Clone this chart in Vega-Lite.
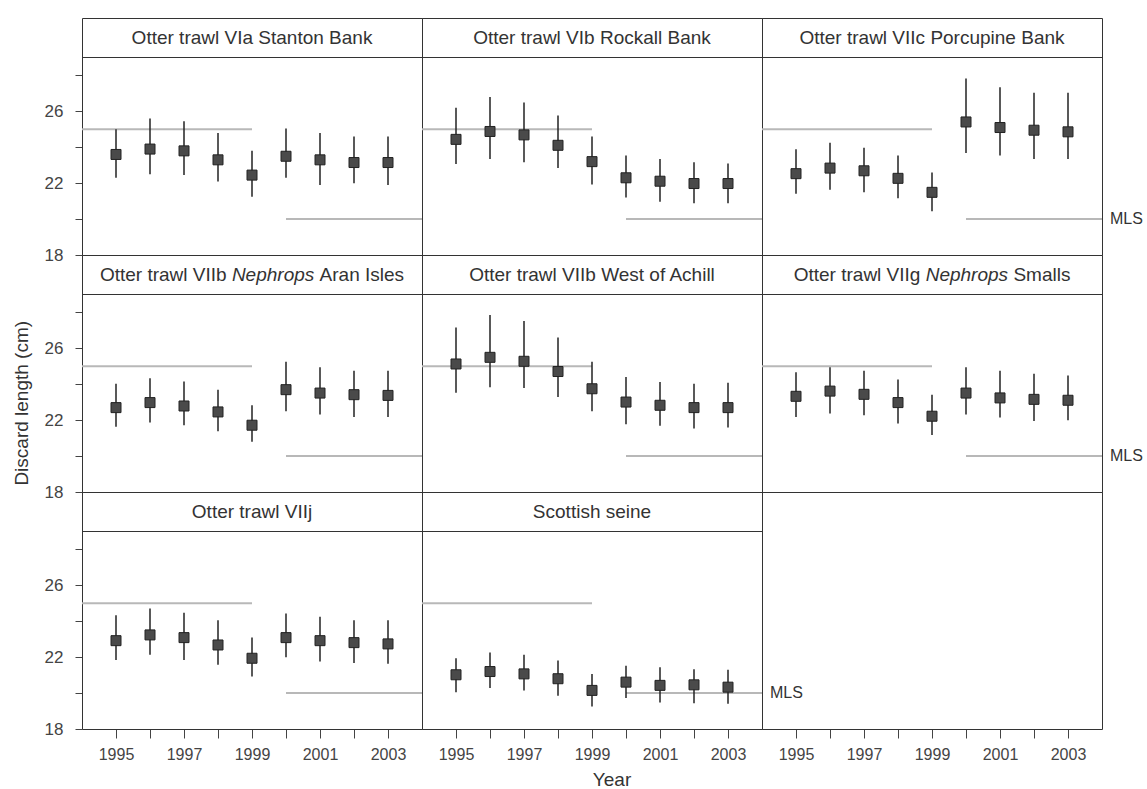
{
  "$schema": "https://vega.github.io/schema/vega-lite/v6.json",
  "background": "white",
  "padding": {"left": 13, "top": 16, "right": 5, "bottom": 5},
  "bounds": "flush",
  "title": {"text": "Discard length (cm)", "orient": "left", "anchor": "middle", "fontSize": 19, "fontWeight": "normal", "font": "Liberation Sans", "color": "#333", "offset": 12},
  "data": {"values": [
    {"panel": "Otter trawl VIa Stanton Bank", "kind": "obs", "year": 1995, "mean": 23.6, "lo": 22.3, "hi": 25.0},
    {"panel": "Otter trawl VIa Stanton Bank", "kind": "obs", "year": 1996, "mean": 23.9, "lo": 22.5, "hi": 25.6},
    {"panel": "Otter trawl VIa Stanton Bank", "kind": "obs", "year": 1997, "mean": 23.8, "lo": 22.45, "hi": 25.45},
    {"panel": "Otter trawl VIa Stanton Bank", "kind": "obs", "year": 1998, "mean": 23.3, "lo": 22.1, "hi": 24.8},
    {"panel": "Otter trawl VIa Stanton Bank", "kind": "obs", "year": 1999, "mean": 22.45, "lo": 21.25, "hi": 23.8},
    {"panel": "Otter trawl VIa Stanton Bank", "kind": "obs", "year": 2000, "mean": 23.5, "lo": 22.3, "hi": 25.05},
    {"panel": "Otter trawl VIa Stanton Bank", "kind": "obs", "year": 2001, "mean": 23.3, "lo": 21.9, "hi": 24.8},
    {"panel": "Otter trawl VIa Stanton Bank", "kind": "obs", "year": 2002, "mean": 23.15, "lo": 22.0, "hi": 24.6},
    {"panel": "Otter trawl VIa Stanton Bank", "kind": "obs", "year": 2003, "mean": 23.15, "lo": 21.9, "hi": 24.6},
    {"panel": "Otter trawl VIa Stanton Bank", "kind": "ref", "start": 1994, "end": 1999, "value": 25},
    {"panel": "Otter trawl VIa Stanton Bank", "kind": "ref", "start": 2000, "end": 2004, "value": 20},

    {"panel": "Otter trawl VIb Rockall Bank", "kind": "obs", "year": 1995, "mean": 24.44, "lo": 23.07, "hi": 26.2},
    {"panel": "Otter trawl VIb Rockall Bank", "kind": "obs", "year": 1996, "mean": 24.88, "lo": 23.35, "hi": 26.8},
    {"panel": "Otter trawl VIb Rockall Bank", "kind": "obs", "year": 1997, "mean": 24.69, "lo": 23.16, "hi": 26.5},
    {"panel": "Otter trawl VIb Rockall Bank", "kind": "obs", "year": 1998, "mean": 24.11, "lo": 22.84, "hi": 25.77},
    {"panel": "Otter trawl VIb Rockall Bank", "kind": "obs", "year": 1999, "mean": 23.2, "lo": 21.92, "hi": 24.6},
    {"panel": "Otter trawl VIb Rockall Bank", "kind": "obs", "year": 2000, "mean": 22.3, "lo": 21.2, "hi": 23.54},
    {"panel": "Otter trawl VIb Rockall Bank", "kind": "obs", "year": 2001, "mean": 22.11, "lo": 20.97, "hi": 23.35},
    {"panel": "Otter trawl VIb Rockall Bank", "kind": "obs", "year": 2002, "mean": 21.98, "lo": 20.88, "hi": 23.16},
    {"panel": "Otter trawl VIb Rockall Bank", "kind": "obs", "year": 2003, "mean": 21.98, "lo": 20.88, "hi": 23.1},
    {"panel": "Otter trawl VIb Rockall Bank", "kind": "ref", "start": 1994, "end": 1999, "value": 25},
    {"panel": "Otter trawl VIb Rockall Bank", "kind": "ref", "start": 2000, "end": 2004, "value": 20},

    {"panel": "Otter trawl VIIc Porcupine Bank", "kind": "obs", "year": 1995, "mean": 22.53, "lo": 21.41, "hi": 23.89},
    {"panel": "Otter trawl VIIc Porcupine Bank", "kind": "obs", "year": 1996, "mean": 22.84, "lo": 21.64, "hi": 24.25},
    {"panel": "Otter trawl VIIc Porcupine Bank", "kind": "obs", "year": 1997, "mean": 22.69, "lo": 21.5, "hi": 23.98},
    {"panel": "Otter trawl VIIc Porcupine Bank", "kind": "obs", "year": 1998, "mean": 22.27, "lo": 21.16, "hi": 23.54},
    {"panel": "Otter trawl VIIc Porcupine Bank", "kind": "obs", "year": 1999, "mean": 21.49, "lo": 20.44, "hi": 22.6},
    {"panel": "Otter trawl VIIc Porcupine Bank", "kind": "obs", "year": 2000, "mean": 25.41, "lo": 23.68, "hi": 27.83},
    {"panel": "Otter trawl VIIc Porcupine Bank", "kind": "obs", "year": 2001, "mean": 25.1, "lo": 23.54, "hi": 27.35},
    {"panel": "Otter trawl VIIc Porcupine Bank", "kind": "obs", "year": 2002, "mean": 24.95, "lo": 23.35, "hi": 27.03},
    {"panel": "Otter trawl VIIc Porcupine Bank", "kind": "obs", "year": 2003, "mean": 24.86, "lo": 23.35, "hi": 27.03},
    {"panel": "Otter trawl VIIc Porcupine Bank", "kind": "ref", "start": 1994, "end": 1999, "value": 25},
    {"panel": "Otter trawl VIIc Porcupine Bank", "kind": "ref", "start": 2000, "end": 2004, "value": 20},

    {"panel": "Otter trawl VIIb Nephrops Aran Isles", "kind": "obs", "year": 1995, "mean": 22.7, "lo": 21.63, "hi": 24.03},
    {"panel": "Otter trawl VIIb Nephrops Aran Isles", "kind": "obs", "year": 1996, "mean": 22.98, "lo": 21.87, "hi": 24.34},
    {"panel": "Otter trawl VIIb Nephrops Aran Isles", "kind": "obs", "year": 1997, "mean": 22.79, "lo": 21.72, "hi": 24.16},
    {"panel": "Otter trawl VIIb Nephrops Aran Isles", "kind": "obs", "year": 1998, "mean": 22.46, "lo": 21.39, "hi": 23.7},
    {"panel": "Otter trawl VIIb Nephrops Aran Isles", "kind": "obs", "year": 1999, "mean": 21.72, "lo": 20.8, "hi": 22.83},
    {"panel": "Otter trawl VIIb Nephrops Aran Isles", "kind": "obs", "year": 2000, "mean": 23.7, "lo": 22.5, "hi": 25.26},
    {"panel": "Otter trawl VIIb Nephrops Aran Isles", "kind": "obs", "year": 2001, "mean": 23.51, "lo": 22.31, "hi": 24.95},
    {"panel": "Otter trawl VIIb Nephrops Aran Isles", "kind": "obs", "year": 2002, "mean": 23.42, "lo": 22.18, "hi": 24.76},
    {"panel": "Otter trawl VIIb Nephrops Aran Isles", "kind": "obs", "year": 2003, "mean": 23.38, "lo": 22.18, "hi": 24.76},
    {"panel": "Otter trawl VIIb Nephrops Aran Isles", "kind": "ref", "start": 1994, "end": 1999, "value": 25},
    {"panel": "Otter trawl VIIb Nephrops Aran Isles", "kind": "ref", "start": 2000, "end": 2004, "value": 20},

    {"panel": "Otter trawl VIIb West of Achill", "kind": "obs", "year": 1995, "mean": 25.13, "lo": 23.53, "hi": 27.16},
    {"panel": "Otter trawl VIIb West of Achill", "kind": "obs", "year": 1996, "mean": 25.5, "lo": 23.84, "hi": 27.86},
    {"panel": "Otter trawl VIIb West of Achill", "kind": "obs", "year": 1997, "mean": 25.28, "lo": 23.79, "hi": 27.53},
    {"panel": "Otter trawl VIIb West of Achill", "kind": "obs", "year": 1998, "mean": 24.71, "lo": 23.29, "hi": 26.61},
    {"panel": "Otter trawl VIIb West of Achill", "kind": "obs", "year": 1999, "mean": 23.75, "lo": 22.5, "hi": 25.26},
    {"panel": "Otter trawl VIIb West of Achill", "kind": "obs", "year": 2000, "mean": 23.01, "lo": 21.78, "hi": 24.4},
    {"panel": "Otter trawl VIIb West of Achill", "kind": "obs", "year": 2001, "mean": 22.83, "lo": 21.69, "hi": 24.12},
    {"panel": "Otter trawl VIIb West of Achill", "kind": "obs", "year": 2002, "mean": 22.7, "lo": 21.54, "hi": 24.03},
    {"panel": "Otter trawl VIIb West of Achill", "kind": "obs", "year": 2003, "mean": 22.7, "lo": 21.59, "hi": 24.08},
    {"panel": "Otter trawl VIIb West of Achill", "kind": "ref", "start": 1994, "end": 1999, "value": 25},
    {"panel": "Otter trawl VIIb West of Achill", "kind": "ref", "start": 2000, "end": 2004, "value": 20},

    {"panel": "Otter trawl VIIg Nephrops Smalls", "kind": "obs", "year": 1995, "mean": 23.33, "lo": 22.18, "hi": 24.67},
    {"panel": "Otter trawl VIIg Nephrops Smalls", "kind": "obs", "year": 1996, "mean": 23.62, "lo": 22.37, "hi": 24.95},
    {"panel": "Otter trawl VIIg Nephrops Smalls", "kind": "obs", "year": 1997, "mean": 23.44, "lo": 22.28, "hi": 24.76},
    {"panel": "Otter trawl VIIg Nephrops Smalls", "kind": "obs", "year": 1998, "mean": 22.98, "lo": 21.82, "hi": 24.27},
    {"panel": "Otter trawl VIIg Nephrops Smalls", "kind": "obs", "year": 1999, "mean": 22.22, "lo": 21.17, "hi": 23.42},
    {"panel": "Otter trawl VIIg Nephrops Smalls", "kind": "obs", "year": 2000, "mean": 23.51, "lo": 22.31, "hi": 24.95},
    {"panel": "Otter trawl VIIg Nephrops Smalls", "kind": "obs", "year": 2001, "mean": 23.24, "lo": 22.15, "hi": 24.76},
    {"panel": "Otter trawl VIIg Nephrops Smalls", "kind": "obs", "year": 2002, "mean": 23.16, "lo": 21.96, "hi": 24.58},
    {"panel": "Otter trawl VIIg Nephrops Smalls", "kind": "obs", "year": 2003, "mean": 23.11, "lo": 22.0, "hi": 24.49},
    {"panel": "Otter trawl VIIg Nephrops Smalls", "kind": "ref", "start": 1994, "end": 1999, "value": 25},
    {"panel": "Otter trawl VIIg Nephrops Smalls", "kind": "ref", "start": 2000, "end": 2004, "value": 20},

    {"panel": "Otter trawl VIIj", "kind": "obs", "year": 1995, "mean": 22.92, "lo": 21.85, "hi": 24.34},
    {"panel": "Otter trawl VIIj", "kind": "obs", "year": 1996, "mean": 23.24, "lo": 22.13, "hi": 24.71},
    {"panel": "Otter trawl VIIj", "kind": "obs", "year": 1997, "mean": 23.09, "lo": 21.85, "hi": 24.47},
    {"panel": "Otter trawl VIIj", "kind": "obs", "year": 1998, "mean": 22.68, "lo": 21.58, "hi": 24.06},
    {"panel": "Otter trawl VIIj", "kind": "obs", "year": 1999, "mean": 21.94, "lo": 20.93, "hi": 23.09},
    {"panel": "Otter trawl VIIj", "kind": "obs", "year": 2000, "mean": 23.09, "lo": 22.0, "hi": 24.43},
    {"panel": "Otter trawl VIIj", "kind": "obs", "year": 2001, "mean": 22.92, "lo": 21.76, "hi": 24.25},
    {"panel": "Otter trawl VIIj", "kind": "obs", "year": 2002, "mean": 22.81, "lo": 21.67, "hi": 24.06},
    {"panel": "Otter trawl VIIj", "kind": "obs", "year": 2003, "mean": 22.74, "lo": 21.63, "hi": 24.06},
    {"panel": "Otter trawl VIIj", "kind": "ref", "start": 1994, "end": 1999, "value": 25},
    {"panel": "Otter trawl VIIj", "kind": "ref", "start": 2000, "end": 2004, "value": 20},

    {"panel": "Scottish seine", "kind": "obs", "year": 1995, "mean": 21.02, "lo": 20.04, "hi": 21.94},
    {"panel": "Scottish seine", "kind": "obs", "year": 1996, "mean": 21.2, "lo": 20.28, "hi": 22.26},
    {"panel": "Scottish seine", "kind": "obs", "year": 1997, "mean": 21.07, "lo": 20.15, "hi": 22.13},
    {"panel": "Scottish seine", "kind": "obs", "year": 1998, "mean": 20.8, "lo": 19.85, "hi": 21.81},
    {"panel": "Scottish seine", "kind": "obs", "year": 1999, "mean": 20.15, "lo": 19.26, "hi": 21.07},
    {"panel": "Scottish seine", "kind": "obs", "year": 2000, "mean": 20.61, "lo": 19.72, "hi": 21.52},
    {"panel": "Scottish seine", "kind": "obs", "year": 2001, "mean": 20.43, "lo": 19.48, "hi": 21.44},
    {"panel": "Scottish seine", "kind": "obs", "year": 2002, "mean": 20.46, "lo": 19.44, "hi": 21.33},
    {"panel": "Scottish seine", "kind": "obs", "year": 2003, "mean": 20.33, "lo": 19.4, "hi": 21.3},
    {"panel": "Scottish seine", "kind": "ref", "start": 1994, "end": 1999, "value": 25},
    {"panel": "Scottish seine", "kind": "ref", "start": 2000, "end": 2004, "value": 20},

    {"panel": "blank", "kind": "blank"}
  ]},
  "facet": {
    "field": "panel", "type": "nominal",
    "sort": ["Otter trawl VIa Stanton Bank", "Otter trawl VIb Rockall Bank", "Otter trawl VIIc Porcupine Bank", "Otter trawl VIIb Nephrops Aran Isles", "Otter trawl VIIb West of Achill", "Otter trawl VIIg Nephrops Smalls", "Otter trawl VIIj", "Scottish seine", "blank"],
    "header": {"labels": false, "labelExpr": "''", "labelFontSize": 1, "labelPadding": 0, "title": "Year", "titleOrient": "bottom", "titleFontSize": 19, "titleFontWeight": "normal", "titleFont": "Liberation Sans", "titleColor": "#333", "titlePadding": 9}
  },
  "columns": 3,
  "spacing": 0,
  "spec": {
    "width": 340,
    "height": 237,
    "layer": [
      {
        "transform": [{"filter": "datum.kind == 'ref'"}],
        "mark": {"type": "rule", "color": "#b8b8b8", "strokeWidth": 2},
        "encoding": {
          "x": {"field": "start", "type": "quantitative",
                "scale": {"domain": [1994, 2004], "nice": false, "zero": false},
                "axis": {"title": null, "values": [1995, 1996, 1997, 1998, 1999, 2000, 2001, 2002, 2003], "format": "d",
                         "labelExpr": "datum.value % 2 == 1 ? datum.label : ''", "tickSize": 9, "labelPadding": 8,
                         "domain": false, "grid": false, "labelFontSize": 16, "labelColor": "#444", "tickColor": "#444", "labelFont": "Liberation Sans"}},
          "x2": {"field": "end"},
          "y": {"field": "value", "type": "quantitative",
                "scale": {"domain": [18, 31.2], "nice": false, "zero": false},
                "axis": {"title": null, "values": [18, 20, 22, 24, 26, 28],
                         "labelExpr": "datum.value % 4 == 2 ? datum.label : ''", "tickSize": 7, "labelPadding": 12,
                         "domain": false, "grid": false, "labelFontSize": 17, "labelColor": "#444", "tickColor": "#444", "labelFont": "Liberation Sans"}}
        }
      },
      {
        "transform": [{"filter": "datum.kind == 'obs'"}],
        "mark": {"type": "rule", "color": "#222", "strokeWidth": 1.5},
        "encoding": {
          "x": {"field": "year", "type": "quantitative"},
          "y": {"field": "lo", "type": "quantitative"},
          "y2": {"field": "hi"}
        }
      },
      {
        "transform": [{"filter": "datum.kind == 'obs'"}],
        "mark": {"type": "square", "size": 100, "color": "#4a4a4a", "opacity": 1, "stroke": "#222", "strokeWidth": 1},
        "encoding": {
          "x": {"field": "year", "type": "quantitative"},
          "y": {"field": "mean", "type": "quantitative"}
        }
      },
      {
        "transform": [{"filter": "datum.kind == 'ref' && datum.value == 20"}],
        "mark": {"type": "rule", "color": "#333", "strokeWidth": 1},
        "encoding": {
          "x": {"datum": 1994, "type": "quantitative"},
          "x2": {"datum": 2004},
          "y": {"datum": 29, "type": "quantitative"}
        }
      },
      {
        "transform": [{"filter": "datum.kind == 'ref' && datum.value == 20 && indexof(datum.panel, 'Nephrops') < 0"}],
        "mark": {"type": "text", "fontSize": 19, "font": "Liberation Sans", "color": "#333", "align": "center", "baseline": "middle"},
        "encoding": {
          "x": {"datum": 1999, "type": "quantitative"},
          "y": {"datum": 30.1, "type": "quantitative"},
          "text": {"field": "panel"}
        }
      },
      {
        "transform": [{"filter": "datum.kind == 'ref' && datum.value == 20 && datum.panel == 'Otter trawl VIIb Nephrops Aran Isles'"}],
        "mark": {"type": "text", "fontSize": 19, "font": "Liberation Sans", "color": "#333", "align": "right", "baseline": "middle", "dx": -25.4},
        "encoding": {
          "x": {"datum": 1999, "type": "quantitative"},
          "y": {"datum": 30.1, "type": "quantitative"},
          "text": {"value": "Otter trawl VIIb"}
        }
      },
      {
        "transform": [{"filter": "datum.kind == 'ref' && datum.value == 20 && datum.panel == 'Otter trawl VIIb Nephrops Aran Isles'"}],
        "mark": {"type": "text", "fontSize": 19, "font": "Liberation Sans", "fontStyle": "italic", "color": "#333", "align": "left", "baseline": "middle", "dx": -20.1},
        "encoding": {
          "x": {"datum": 1999, "type": "quantitative"},
          "y": {"datum": 30.1, "type": "quantitative"},
          "text": {"value": "Nephrops"}
        }
      },
      {
        "transform": [{"filter": "datum.kind == 'ref' && datum.value == 20 && datum.panel == 'Otter trawl VIIb Nephrops Aran Isles'"}],
        "mark": {"type": "text", "fontSize": 19, "font": "Liberation Sans", "color": "#333", "align": "left", "baseline": "middle", "dx": 67.6},
        "encoding": {
          "x": {"datum": 1999, "type": "quantitative"},
          "y": {"datum": 30.1, "type": "quantitative"},
          "text": {"value": "Aran Isles"}
        }
      },
      {
        "transform": [{"filter": "datum.kind == 'ref' && datum.value == 20 && datum.panel == 'Otter trawl VIIg Nephrops Smalls'"}],
        "mark": {"type": "text", "fontSize": 19, "font": "Liberation Sans", "color": "#333", "align": "right", "baseline": "middle", "dx": -11.6},
        "encoding": {
          "x": {"datum": 1999, "type": "quantitative"},
          "y": {"datum": 30.1, "type": "quantitative"},
          "text": {"value": "Otter trawl VIIg"}
        }
      },
      {
        "transform": [{"filter": "datum.kind == 'ref' && datum.value == 20 && datum.panel == 'Otter trawl VIIg Nephrops Smalls'"}],
        "mark": {"type": "text", "fontSize": 19, "font": "Liberation Sans", "fontStyle": "italic", "color": "#333", "align": "left", "baseline": "middle", "dx": -6.3},
        "encoding": {
          "x": {"datum": 1999, "type": "quantitative"},
          "y": {"datum": 30.1, "type": "quantitative"},
          "text": {"value": "Nephrops"}
        }
      },
      {
        "transform": [{"filter": "datum.kind == 'ref' && datum.value == 20 && datum.panel == 'Otter trawl VIIg Nephrops Smalls'"}],
        "mark": {"type": "text", "fontSize": 19, "font": "Liberation Sans", "color": "#333", "align": "left", "baseline": "middle", "dx": 81.4},
        "encoding": {
          "x": {"datum": 1999, "type": "quantitative"},
          "y": {"datum": 30.1, "type": "quantitative"},
          "text": {"value": "Smalls"}
        }
      },
      {
        "transform": [{"filter": "datum.kind == 'ref' && datum.value == 20 && (datum.panel == 'Otter trawl VIIc Porcupine Bank' || datum.panel == 'Otter trawl VIIg Nephrops Smalls' || datum.panel == 'Scottish seine')"}],
        "mark": {"type": "text", "fontSize": 16, "font": "Liberation Sans", "color": "#333", "align": "left", "baseline": "middle", "dx": 8},
        "encoding": {
          "x": {"field": "end", "type": "quantitative"},
          "y": {"field": "value", "type": "quantitative"},
          "text": {"value": "MLS"}
        }
      }
    ]
  },
  "config": {
    "view": {"stroke": "#333", "strokeWidth": 1},
    "font": "Liberation Sans",
    "header": {"labels": false},
    "facet": {"spacing": 0}
  }
}
